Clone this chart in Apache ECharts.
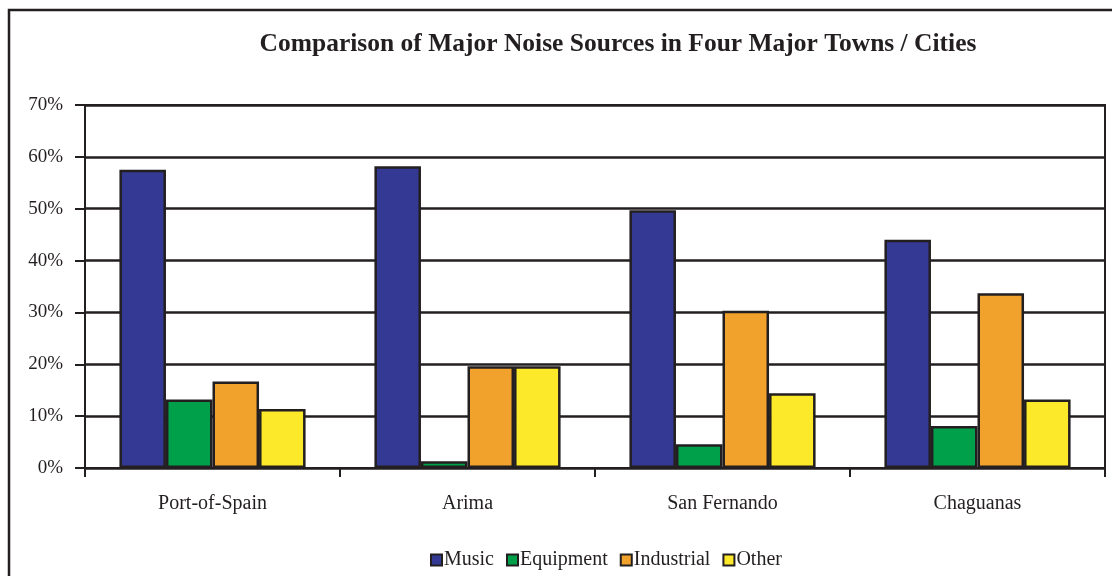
<!DOCTYPE html>
<html><head><meta charset="utf-8">
<script src="https://cdn.jsdelivr.net/npm/echarts@6/dist/echarts.min.js"></script>
<style>html,body{margin:0;padding:0;background:#fff}#c{width:1112px;height:576px}</style>
</head><body><div id="c"></div>
<script>
const categories = ['Port-of-Spain', 'Arima', 'San Fernando', 'Chaguanas'];
const music = [57.5, 58.2, 49.7, 44.0];
const equipment = [13.2, 1.3, 4.6, 8.1];
const industrial = [16.7, 19.6, 30.3, 33.7];
const other = [11.4, 19.6, 14.4, 13.2];
const yTicks = [0, 10, 20, 30, 40, 50, 60, 70];
const seriesNames = ['Music', 'Equipment', 'Industrial', 'Other'];
const colors = ['#343a94', '#00a04b', '#f0a22c', '#fce92a'];

const font = '"Liberation Serif", "DejaVu Serif", serif';
const ink = '#231f20';
const chart = echarts.init(document.getElementById('c'));
const datas = [music, equipment, industrial, other];
chart.setOption({
  animation: false,
  textStyle: { fontFamily: font, color: ink },
  title: {
    text: 'Comparison of Major Noise Sources in Four Major Towns / Cities',
    left: 613, top: 26, textAlign: 'center',
    textStyle: { fontFamily: font, fontWeight: 'bold', fontSize: 25.5, color: ink }
  },
  graphic: [{
    type: 'rect', shape: { x: 9, y: 10, width: 1120, height: 600 },
    style: { fill: 'none', stroke: ink, lineWidth: 2.5 }, silent: true, z: -1
  }],
  legend: {
    data: seriesNames, left: 425, top: 545, itemWidth: 11, itemHeight: 11, itemGap: 12,
    icon: 'rect',
    textStyle: { fontFamily: font, fontSize: 20, color: ink, padding: [0, 0, 0, -3] }
  },
  grid: { left: 85, right: 7, top: 105, bottom: 108, show: true, borderColor: ink, borderWidth: 2 },
  xAxis: {
    type: 'category', data: categories,
    axisLine: { lineStyle: { color: ink, width: 2 } },
    axisTick: { show: true, length: 9, lineStyle: { color: ink, width: 2 } },
    axisLabel: { fontFamily: font, fontSize: 20, color: ink, margin: 26 }
  },
  yAxis: {
    type: 'value', min: yTicks[0], max: yTicks[yTicks.length - 1], interval: 10,
    axisLine: { show: true, lineStyle: { color: ink, width: 2 } },
    axisTick: { show: true, length: 10, lineStyle: { color: ink, width: 2 } },
    axisLabel: { fontFamily: font, fontSize: 19, color: ink, margin: 22, formatter: v => v + '%' },
    splitLine: { lineStyle: { color: ink, width: 2.5 } }
  },
  series: seriesNames.map((n, i) => ({
    name: n, type: 'bar', data: datas[i],
    barGap: '0%', barCategoryGap: '27%',
    itemStyle: { color: colors[i], borderColor: ink, borderWidth: 2.5 }
  }))
});
</script></body></html>
